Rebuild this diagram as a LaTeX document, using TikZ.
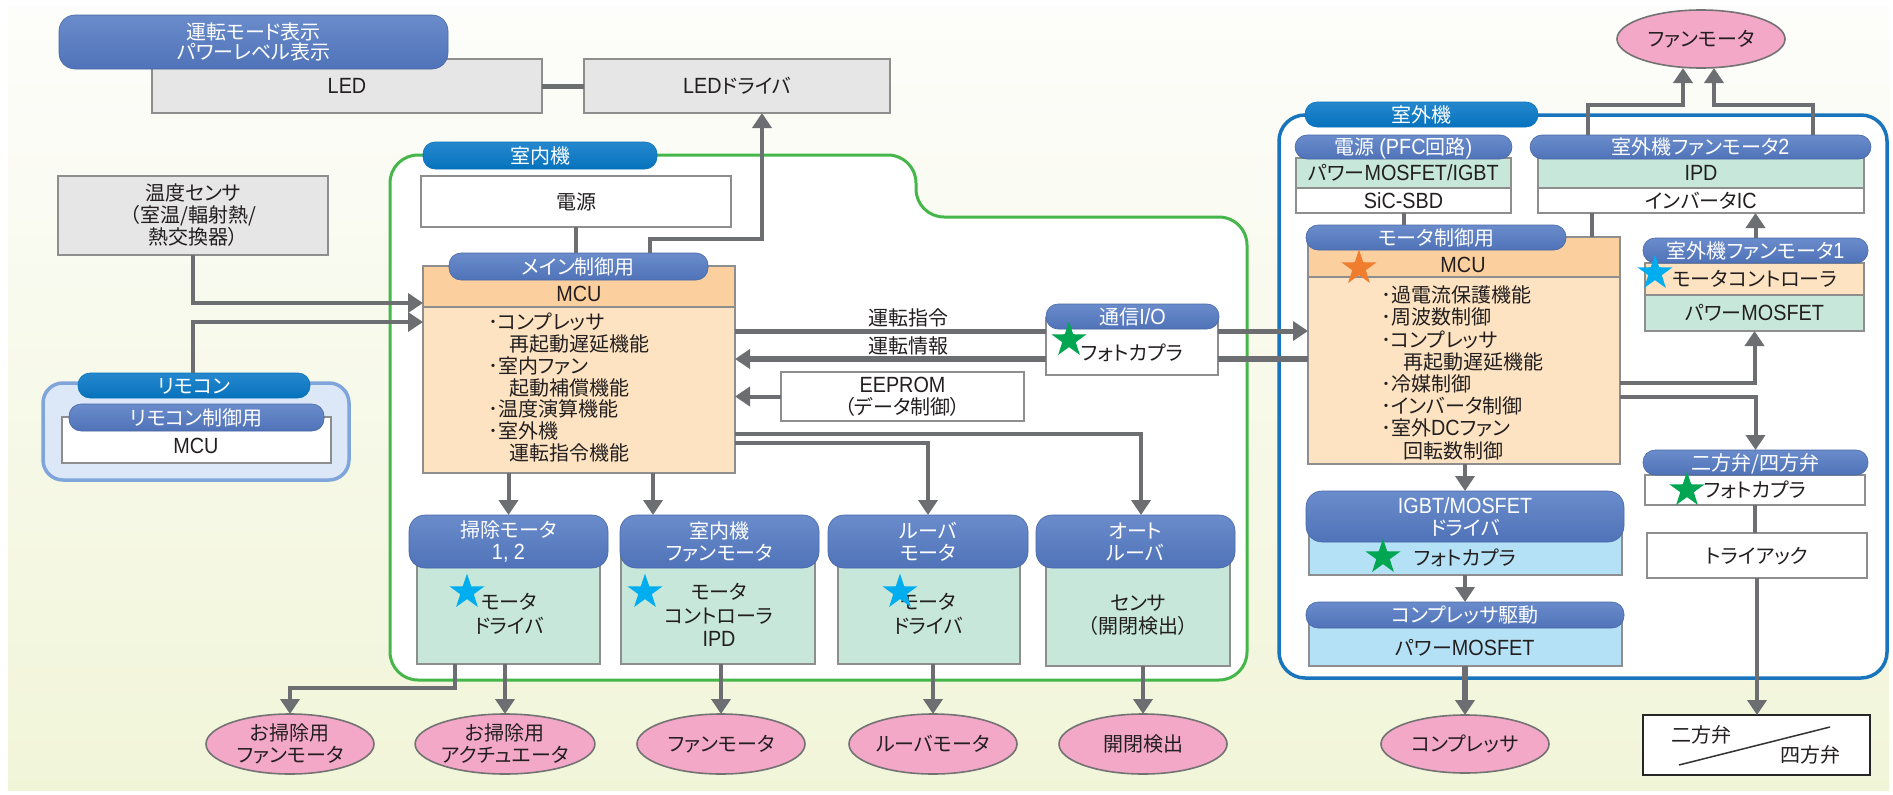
\documentclass[tikz,border=0pt]{standalone}
\usepackage{fontspec}
\setmainfont{Noto Sans CJK JP}[RawFeature=+palt]
\newfontfamily\lat{Liberation Sans}[Scale=1.1,FakeStretch=0.9]
\usetikzlibrary{arrows.meta,shapes.geometric,calc}
\definecolor{secT}{HTML}{6A8CCB}
\definecolor{secB}{HTML}{5073B9}
\definecolor{conT}{HTML}{2588CE}
\definecolor{conB}{HTML}{0672BC}
\definecolor{lngray}{HTML}{6D6E71}
\definecolor{bdgray}{HTML}{8E8E8E}
\definecolor{lgray}{HTML}{E6E6E6}
\definecolor{mint}{HTML}{C6E7D9}
\definecolor{orl}{HTML}{FDE3C1}
\definecolor{orh}{HTML}{FCCF9F}
\definecolor{lblue}{HTML}{B4E1F6}
\definecolor{pinkf}{HTML}{F3A8C8}
\definecolor{gcont}{HTML}{45B649}
\definecolor{bcont}{HTML}{1874BC}
\definecolor{rmfill}{HTML}{DCE8F7}
\definecolor{rmbd}{HTML}{7FA5DA}
\definecolor{txt}{HTML}{231F20}
\definecolor{starb}{HTML}{00AEEF}
\definecolor{starg}{HTML}{00A651}
\definecolor{staro}{HTML}{F07C2E}
\definecolor{bgtop}{HTML}{FDFDFB}
\definecolor{bgbot}{HTML}{F1F5D8}
\newcommand{\fs}{\fontsize{20}{22}\selectfont}
\newcommand{\Rbox}[7]{\node[#1,minimum width={#4-#2},minimum height={#5-#3}] (#6) at ({(#2+#4)/2},{(#3+#5)/2}) {#7};}
\begin{document}
\begin{tikzpicture}[x=1pt,y=-1pt,
  every node/.style={inner sep=0pt, outer sep=0pt, text=txt, font=\fs, align=center, text height=17.6pt, text depth=2.4pt},
  ml/.style={text height={}, text depth={}},
  box/.style={draw=bdgray, line width=1.6pt, fill=white},
  gbox/.style={box, fill=lgray},
  mbox/.style={box, fill=mint},
  obox/.style={box, fill=orl},
  hbox/.style={box, fill=orh},
  lbox/.style={box, fill=lblue},
  vvbox/.style={box, draw=black!85, line width=2.5pt},
  rmo/.style={rounded corners=20pt, fill=rmfill, draw=rmbd, line width=3.5pt},
  pill/.style={rounded corners=12pt, top color=secT, bottom color=secB, draw=secB!90!black, line width=0.6pt, text=white},
  pillt/.style={pill, rounded corners=16pt, ml},
  cpill/.style={pill, top color=conT, bottom color=conB, draw=conB},
  ell/.style={ellipse, draw=black!55, line width=1.6pt, fill=pinkf, minimum width=168pt, minimum height=60pt},
  conn/.style={draw=lngray, line width=4pt},
  arr/.style={conn, -{Triangle[width=19pt,length=15pt]}},
  tarr/.style={arr, line width=6pt},
  bul/.style={anchor=west, align=left},
  sub/.style={ml, font=\fontsize{20}{23.5}\selectfont},
  starnode/.style={star, star points=5, star point ratio=2.6, minimum size=37pt, inner sep=0pt, draw=none, text height={}, text depth={}},
]
\useasboundingbox (0,0) rectangle (1893,795);
\fill[white] (0,0) rectangle (1893,795);
\shade[top color=bgtop, bottom color=bgbot] (8,6) rectangle (1889,790);

% containers
\draw[gcont, line width=3pt, fill=white, rounded corners=28pt]
  (390,400) -- (390,155) -- (916,155) -- (916,217) -- (1247,217) -- (1247,680) -- (390,680) -- cycle;
\draw[bcont, line width=3.5pt, fill=white, rounded corners=26pt] (1279,115) rectangle (1887,678);

% top-left
\Rbox{gbox}{152}{59}{542}{113}{led}{\lat LED}
\Rbox{gbox}{584}{59}{890}{113}{drv}{{\lat LED}ドライバ}
\Rbox{pillt,font=\fontsize{20}{20.5}\selectfont}{59}{15}{448}{69}{hdr}{運転モード表示\\パワーレベル表示}
\Rbox{gbox,ml}{58}{176}{328}{255}{temp}{温度センサ\\（室温/輻射熱/\\熱交換器）}

% remote
\Rbox{rmo}{43}{383}{349}{480}{rmout}{}
\Rbox{box}{62}{417}{331}{463}{rmin}{}
\Rbox{cpill}{78}{373}{310}{398}{rmp}{リモコン}
\Rbox{pill}{69}{404}{324}{431}{rmcp}{リモコン制御用}
\node (rmt) at (196,446) {\lat MCU};

% indoor unit
\Rbox{cpill}{423}{142}{657}{169}{inp}{室内機}
\Rbox{box}{421}{176}{731}{227}{pwr}{電源}
\Rbox{hbox}{423}{266}{735}{307}{mcuh}{}
\Rbox{obox}{423}{307}{735}{473}{mcub}{}
\Rbox{pill}{449}{253}{708}{280}{mp}{メイン制御用}
\node (mcut) at (579,294) {\lat MCU};
\foreach \t [count=\i] in {･コンプレッサ,\hspace*{1.05em}再起動遅延機能,･室内ファン,\hspace*{1.05em}起動補償機能,･温度演算機能,･室外機,\hspace*{1.05em}運転指令機能}
  \node[bul] (ba\i) at (488,{322+21.8*(\i-1)}) {\t};

\Rbox{box,ml}{781}{372}{1024}{421}{eep}{{\lat EEPROM}\\（データ制御）}
\Rbox{box}{1046}{318}{1218}{375}{io}{}
\Rbox{pill}{1046}{304}{1219}{329}{iop}{通信{\lat I/O}}
\node (iot) at (1132,353) {フォトカプラ};
\node (cmd) at (908,318) {運転指令};
\node (info) at (908,346) {運転情報};

\Rbox{mbox}{417}{555}{600}{664}{b1}{}
\Rbox{mbox}{621}{555}{815}{664}{b2}{}
\Rbox{mbox}{838}{555}{1020}{664}{b3}{}
\Rbox{mbox}{1046}{555}{1230}{666}{b4}{}
\Rbox{pillt}{409}{515}{608}{568}{p1}{掃除モータ\\{\lat 1, 2}}
\Rbox{pillt}{620}{515}{819}{568}{p2}{室内機\\ファンモータ}
\Rbox{pillt}{828}{515}{1028}{568}{p3}{ルーバ\\モータ}
\Rbox{pillt}{1036}{515}{1235}{568}{p4}{オート\\ルーバ}
\node[sub] (b1t) at (509,614) {モータ\\ドライバ};
\node[sub] (b2t) at (719,615) {モータ\\コントローラ\\{\lat IPD}};
\node[sub] (b3t) at (928,614) {モータ\\ドライバ};
\node[sub] (b4t) at (1138,615) {センサ\\（開閉検出）};

\node[ell, ml] (e1) at (290,744) {お掃除用\\ファンモータ};
\node[ell, ml] (e2) at (505,744) {お掃除用\\アクチュエータ};
\node[ell] (e3) at (721,744) {ファンモータ};
\node[ell] (e4) at (933,744) {ルーバモータ};
\node[ell] (e5) at (1143,744) {開閉検出};

% outdoor unit
\Rbox{cpill}{1305}{102}{1538}{127}{outp}{室外機}
\Rbox{mbox}{1296}{158}{1511}{188}{pfc1}{パワー{\lat MOSFET/IGBT}}
\Rbox{box}{1296}{188}{1511}{213}{pfc2}{\lat SiC-SBD}
\Rbox{pill}{1295}{135}{1512}{159}{pfcp}{電源 {\lat (PFC}回路{\lat )}}
\Rbox{mbox}{1538}{158}{1864}{188}{fm2a}{\lat IPD}
\Rbox{box}{1538}{188}{1864}{213}{fm2b}{インバータ{\lat IC}}
\Rbox{pill}{1530}{135}{1871}{159}{fm2p}{室外機ファンモータ{\lat 2}}
\node[ell, minimum height=58pt] (fan) at (1701,39) {ファンモータ};

\Rbox{hbox}{1308}{237}{1620}{277}{m2h}{}
\Rbox{obox}{1308}{277}{1620}{464}{m2b}{}
\Rbox{pill}{1306}{225}{1566}{250}{m2p}{モータ制御用}
\node (m2t) at (1463,265) {\lat MCU};
\foreach \t [count=\i] in {･過電流保護機能,･周波数制御,･コンプレッサ,\hspace*{1.1em}再起動遅延機能,･冷媒制御,･インバータ制御,･室外{\lat DC}ファン,\hspace*{1.1em}回転数制御}
  \node[bul] (bb\i) at (1381,{295+22.2*(\i-1)}) {\t};

\Rbox{obox}{1645}{263}{1864}{295}{fm1a}{モータコントローラ}
\Rbox{mbox}{1645}{295}{1864}{331}{fm1b}{パワー{\lat MOSFET}}
\Rbox{pill}{1643}{238}{1868}{263}{fm1p}{室外機ファンモータ{\lat 1}}

\Rbox{box}{1645}{475}{1865}{505}{vb}{フォトカプラ}
\Rbox{pill}{1643}{450}{1868}{475}{vp}{二方弁/四方弁}
\Rbox{box}{1647}{533}{1867}{578}{tri}{トライアック}
\Rbox{vvbox}{1643}{715}{1870}{775}{vv}{}
\node (vv1) at (1701,735) {二方弁};
\node (vv2) at (1810,755) {四方弁};
\draw[line width=1.5pt, draw=black!80] ($(vv.south west)+(36,-10)$) -- ($(vv.north east)+(-40,12)$);

\Rbox{lbox}{1309}{530}{1622}{575}{igb}{}
\Rbox{pillt}{1306}{491}{1624}{542}{igp}{{\lat IGBT/MOSFET}\\ドライバ}
\node (igt) at (1465,558) {フォトカプラ};
\Rbox{lbox}{1309}{615}{1622}{666}{cb}{}
\Rbox{pill}{1306}{602}{1624}{628}{cpp}{コンプレッサ駆動}
\node (cbt) at (1465,648) {パワー{\lat MOSFET}};
\node[ell, minimum height=58pt] (comp) at (1465,744) {コンプレッサ};

% connectors
\draw[conn, line width=5pt] (led.east) -- (drv.west);
\draw[conn] (pwr.south -| 576,0) -- (mp.north -| 576,0);
\draw[arr] (mp.north -| 650,0) |- (762,239) -- (drv.south -| 762,0);
\draw[arr] (temp.south) |- (mcuh.west |- 0,303);
\draw[arr] (rmp.north -| temp.south) |- (mcub.west |- 0,322);
\draw[conn, line width=5pt] (mcub.east |- 0,331) -- (io.west |- 0,331);
\draw[arr, line width=5pt] (io.east |- 0,331) -- (m2b.west |- 0,331);
\draw[arr, line width=6pt] (io.west |- 0,359) -- (mcub.east |- 0,359);
\draw[conn, line width=6pt] (io.east |- 0,359) -- (m2b.west |- 0,359);
\draw[arr] (eep.west) -- (mcub.east |- eep.west);
\draw[arr] (mcub.south -| p1.north) -- (p1.north);
\draw[arr] (mcub.south -| 653,0) -- (p2.north -| 653,0);
\draw[arr] (mcub.east |- 0,443) -| (p3.north);
\draw[arr] (mcub.east |- 0,434) -| (p4.north -| 1141,0);
\draw[arr] (b1.south -| 455,0) |- (e1.north |- 0,688) -- (e1.north);
\draw[arr] (b1.south -| e2.north) -- (e2.north);
\draw[arr] (b2.south -| e3.north) -- (e3.north);
\draw[arr] (b3.south -| e4.north) -- (e4.north);
\draw[arr] (b4.south -| e5.north) -- (e5.north);

\draw[arr] (fm2p.north -| 1588,0) |- (1683,105) -- (fan.south -| 1683,0);
\draw[arr] (fm2p.north -| 1813,0) |- (1714,105) -- (fan.south -| 1714,0);
\draw[conn] (pfc2.south) -- (m2p.north -| pfc2.south);
\draw[conn] (fm2b.south -| 1592,0) -- (m2h.north -| 1592,0);
\draw[arr] (fm1p.north) -- (fm1p.north |- fm2b.south);
\draw[arr] (m2b.east |- 0,383) -| (fm1b.south);
\draw[arr] (m2b.east |- 0,397) -| (vp.north);
\draw[conn] (vb.south) -- (vb.south |- tri.north);
\draw[arr] (tri.south) -- (tri.south |- vv.north);
\draw[arr] (m2b.south -| igp.north) -- (igp.north);
\draw[arr] (igb.south -| cpp.north) -- (cpp.north);
\draw[tarr] (cb.south -| comp.north) -- (comp.north);

% stars
\node[starnode, fill=starg] (s1) at (1069,340) {};
\node[starnode, fill=starb] (s2) at (467,592) {};
\node[starnode, fill=starb] (s3) at (645,592) {};
\node[starnode, fill=starb] (s4) at (900,592) {};
\node[starnode, fill=staro] (s5) at (1359,268) {};
\node[starnode, fill=starb] (s6) at (1655,273) {};
\node[starnode, fill=starg] (s7) at (1687,490) {};
\node[starnode, fill=starg] (s8) at (1383,557) {};
\end{tikzpicture}
\end{document}
